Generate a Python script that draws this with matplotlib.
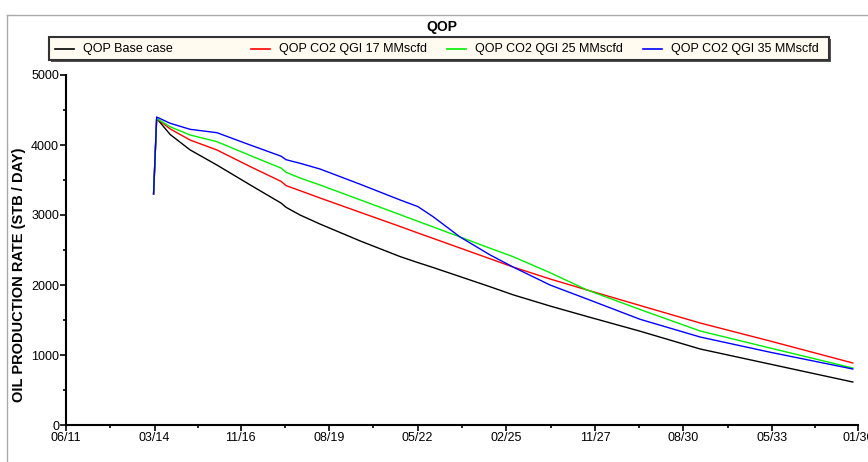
import numpy as np
import matplotlib
matplotlib.use('Agg')
import matplotlib.pyplot as plt
import matplotlib.dates as mdates
from matplotlib.lines import Line2D
from matplotlib.patches import Rectangle

plt.rcParams['font.family'] = ['Liberation Sans', 'DejaVu Sans']

# common date grid
dates = ['2014-02-18', '2014-03-25', '2014-08-25', '2015-04-08', '2016-02-06',
         '2017-02-17', '2018-02-03', '2018-03-31', '2018-09-05', '2019-04-20',
         '2020-07-17', '2021-10-16', '2022-05-04', '2022-10-23', '2023-08-25',
         '2024-07-30', '2025-04-17', '2026-06-10', '2027-08-04', '2029-03-27',
         '2031-02-06', '2033-04-08', '2035-11-03']

base_case = [3300, 4380, 4150, 3930, 3714, 3430, 3170, 3110, 3000, 2871,
             2630, 2405, 2320, 2250, 2120, 1975, 1860, 1700, 1550, 1340,
             1086, 870, 614]
qgi_17 = [3300, 4380, 4230, 4071, 3929, 3692, 3480, 3420, 3348, 3243,
          3039, 2835, 2743, 2666, 2528, 2375, 2257, 2086, 1929, 1707,
          1457, 1200, 886]
qgi_25 = [3300, 4380, 4260, 4143, 4048, 3850, 3670, 3610, 3529, 3429,
          3217, 3004, 2910, 2830, 2686, 2525, 2405, 2176, 1929, 1650,
          1343, 1100, 814]
qgi_35 = [3300, 4400, 4310, 4224, 4176, 4000, 3840, 3790, 3739, 3657,
          3440, 3214, 3120, 2976, 2686, 2430, 2257, 2000, 1800, 1510,
          1257, 1040, 800]

series_names = ['QOP Base case', 'QOP CO2 QGI 17 MMscfd',
                'QOP CO2 QGI 25 MMscfd', 'QOP CO2 QGI 35 MMscfd']
series_colors = ['#000000', '#ff0000', '#00ee00', '#0000ff']

tick_dates = ['2011-06-01', '2014-03-01', '2016-11-01', '2019-08-01', '2022-05-01',
              '2025-02-01', '2027-11-01', '2030-08-01', '2033-05-01', '2036-01-01']

W, H = 868, 462
fig = plt.figure(figsize=(W / 100, H / 100), dpi=100)
fig.patch.set_facecolor('white')

def fx(px):
    return px / W

def fy(py):
    return 1 - py / H

ax = fig.add_axes([fx(66), fy(425), fx(858) - fx(66), fy(75) - fy(425)])

x = np.array(dates, dtype='datetime64[D]')
for vals, c in zip([base_case, qgi_17, qgi_25, qgi_35], series_colors):
    ax.plot(x, vals, color=c, lw=1.0)

ticks = np.array(tick_dates, dtype='datetime64[D]')
tnum = mdates.date2num(ticks)
ax.set_xlim(tnum[0], tnum[-1])
ax.set_xticks(tnum)
ax.set_xticklabels([t.item().strftime('%m/%y') for t in ticks])
ax.set_xticks((tnum[:-1] + tnum[1:]) / 2, minor=True)
ax.set_ylim(0, 5000)
ax.set_yticks(np.arange(0, 5001, 1000))
ax.set_yticks(np.arange(500, 5000, 1000), minor=True)

for s in ['top', 'right']:
    ax.spines[s].set_visible(False)
for s in ['left', 'bottom']:
    ax.spines[s].set_linewidth(1.5)
ax.tick_params(which='major', length=4, width=1.2, labelsize=9, pad=1)
ax.tick_params(which='minor', length=2.5, width=1.2)
ax.set_ylabel('OIL PRODUCTION RATE (STB / DAY)', fontsize=10.5, fontweight='bold')
ax.yaxis.set_label_coords(-0.051, 0.43)

# outer frame
fig.add_artist(Line2D([fx(7), fx(7)], [fy(15), 0], color='#aaaaaa', lw=1.0))
fig.add_artist(Line2D([fx(7), 1], [fy(15), fy(15)], color='#aaaaaa', lw=1.0))

fig.text(fx(442), fy(27), 'QOP', ha='center', va='center', fontsize=10, fontweight='bold')

# legend box
fig.add_artist(Rectangle((fx(51), fy(62)), fx(829) - fx(49), fy(37) - fy(60),
                         facecolor='#555555', edgecolor='none'))
fig.add_artist(Rectangle((fx(49), fy(60)), fx(829) - fx(49), fy(37) - fy(60),
                         facecolor='#fffbf0', edgecolor='#333333', lw=1.5))
for i, (name, c) in enumerate(zip(series_names, series_colors)):
    x0 = 55 + i * 196
    fig.add_artist(Line2D([fx(x0), fx(x0 + 19)], [fy(49), fy(49)], color=c, lw=1.2))
    fig.text(fx(x0 + 28), fy(49), name, ha='left', va='center', fontsize=9)

fig.savefig('out.png', dpi=100)
